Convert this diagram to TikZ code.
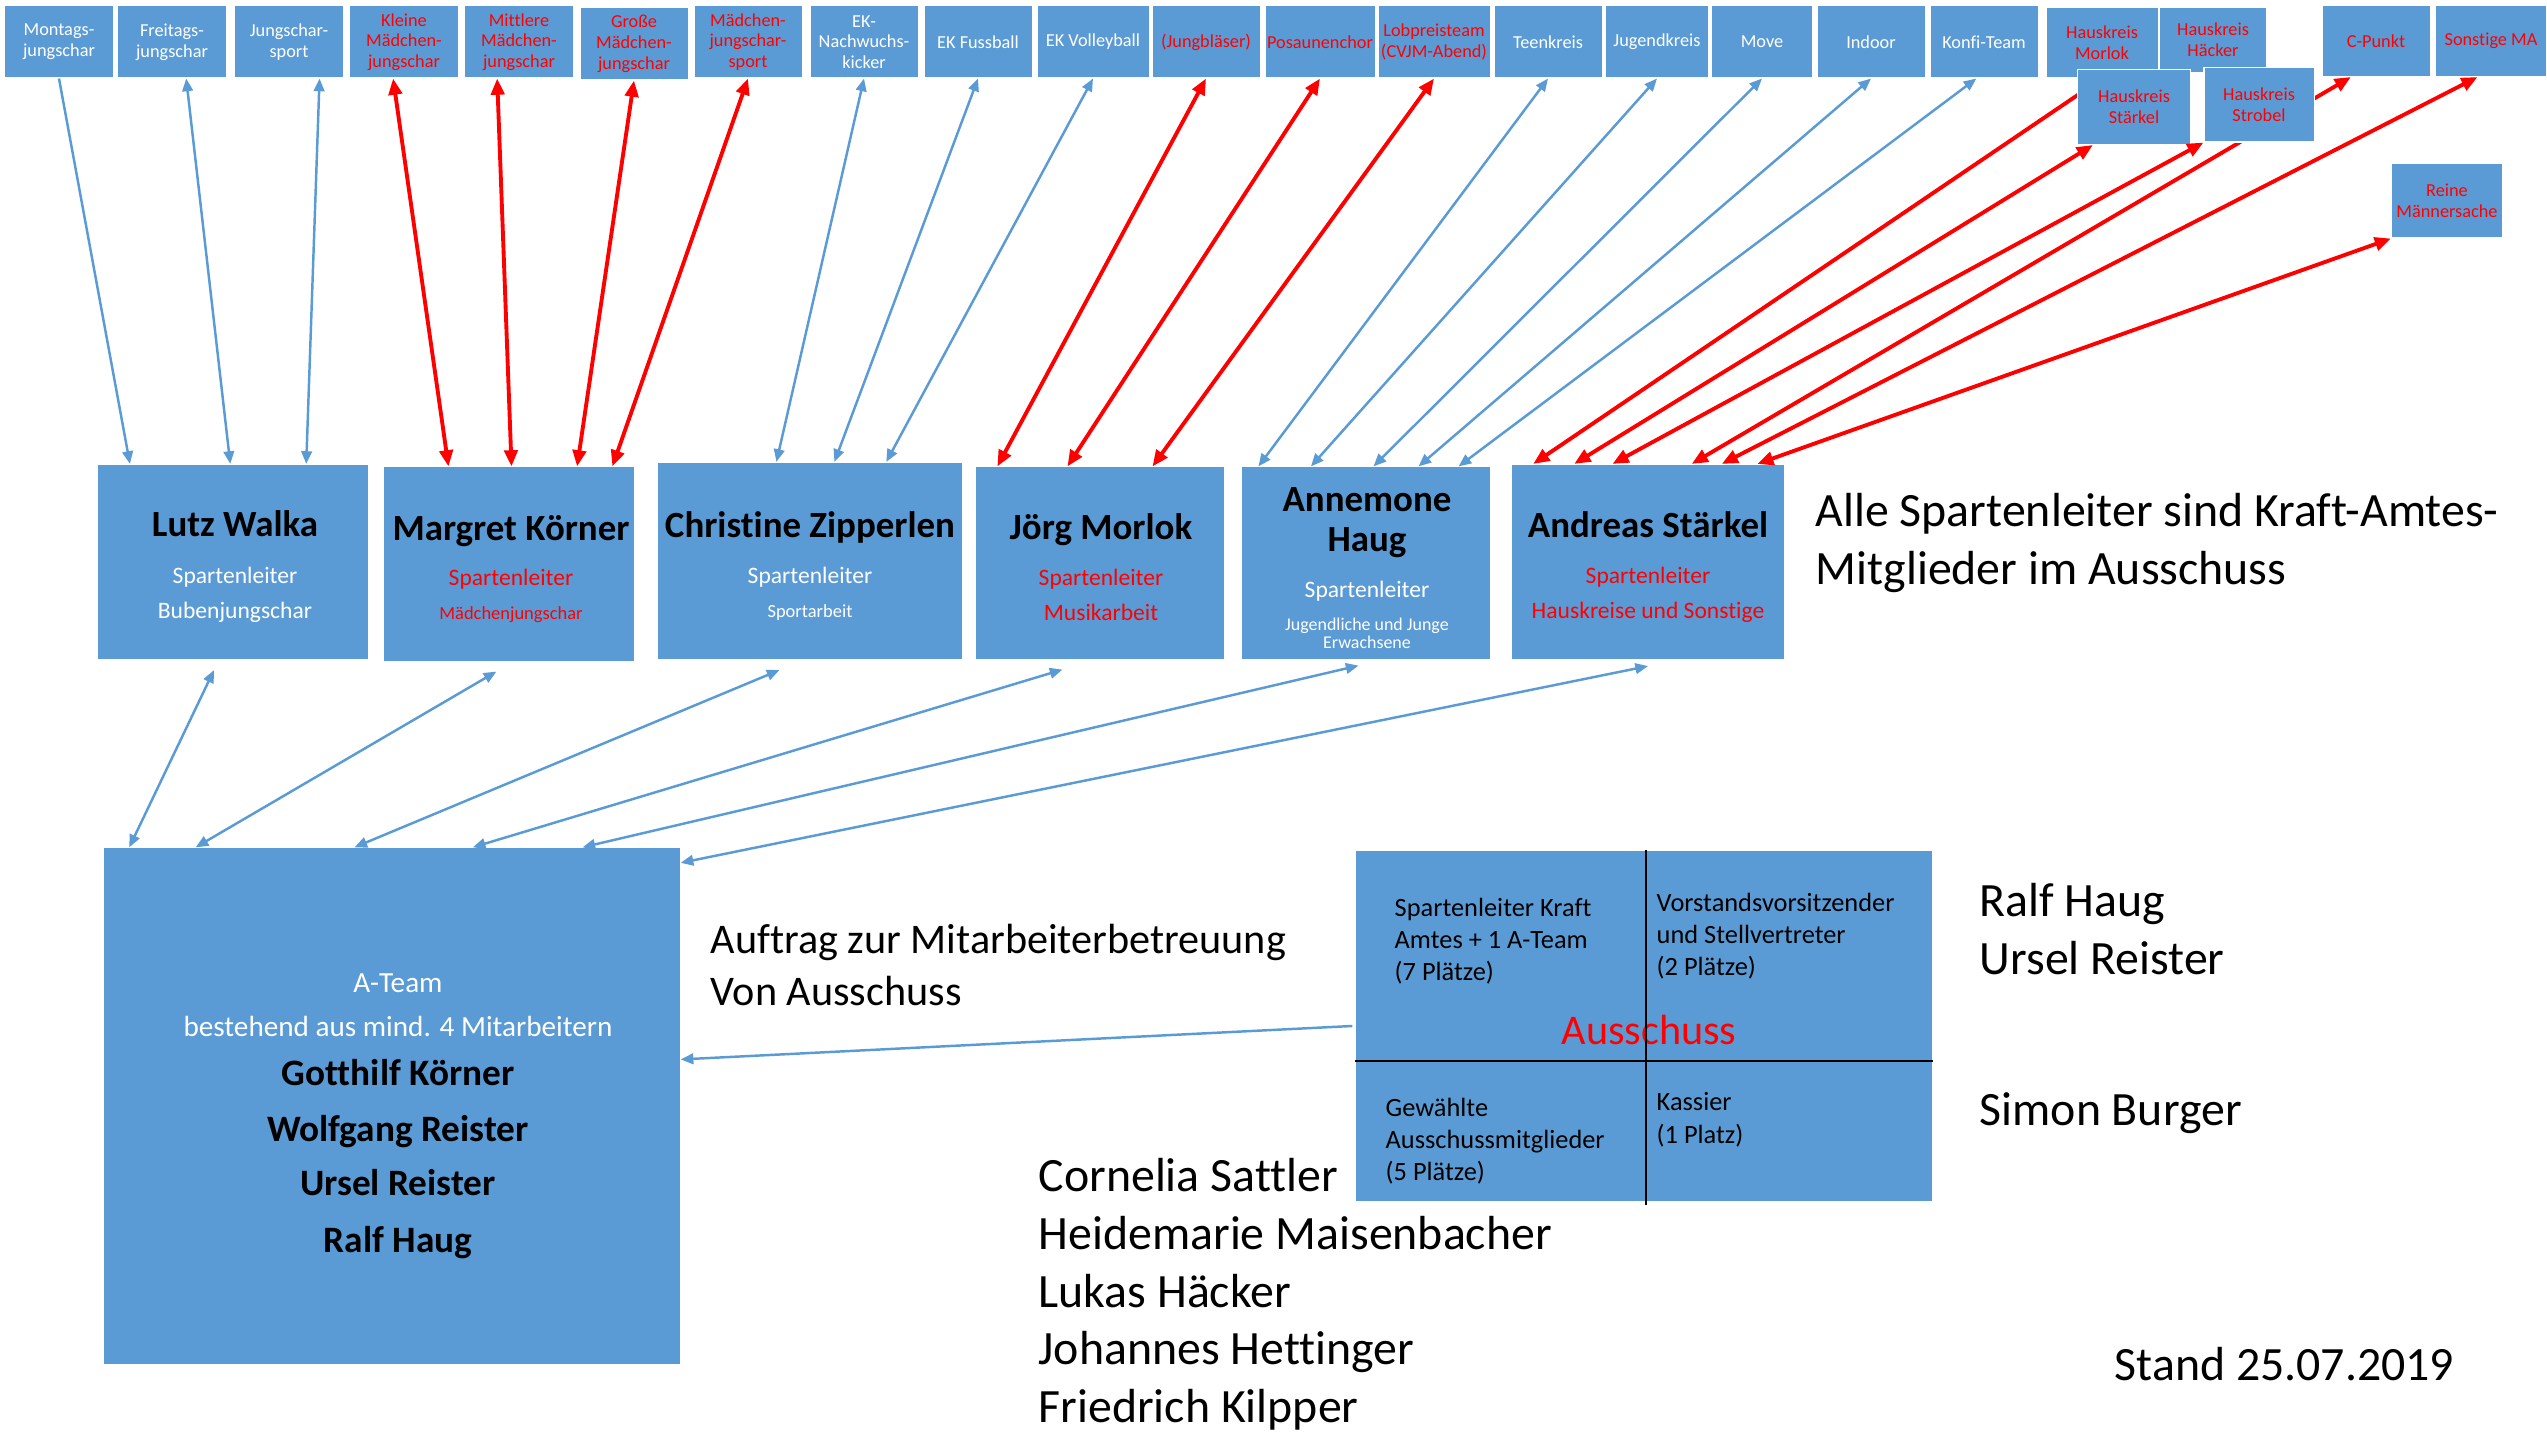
\documentclass[tikz,border=0pt]{standalone}
\usepackage{fontspec}
\setmainfont{Carlito}[Ligatures=NoCommon]
\usepackage{xcolor}
\usepackage{tikz}
\usetikzlibrary{calc,arrows.meta}
\definecolor{officeBlue}{HTML}{5B9BD5}
\definecolor{officeRed}{HTML}{FF0000}
\newcommand{\personName}[1]{{\color{black}\bfseries\fontsize{10.5}{10.5}\selectfont #1}}
\newcommand{\teamName}[1]{{\color{black}\bfseries\fontsize{10.6}{16}\selectfont #1}}
\newcommand{\redText}[1]{{\color{officeRed}#1}}

\begin{document}
\begin{tikzpicture}[x=0.01cm,y=-0.01cm]
      \tikzstyle{every node} = [font=\fontsize{5.2}{5.9}\selectfont]
      \tikzstyle{box} = [draw=white, line width=0.3pt, fill=officeBlue, text=white, inner sep=0pt, align=center]
      \tikzstyle{topbox} = [box, minimum width=1.08cm, minimum height=0.72cm]
      \tikzstyle{redbox} = [topbox, text=officeRed]
      \tikzstyle{leaderText} = [text=white, inner sep=0pt, align=center, font=\fontsize{6.7}{10.5}\selectfont]
      \tikzstyle{note} = [anchor=north west, inner sep=0pt, align=left, font=\fontsize{13.6}{16.4}\selectfont]
      \tikzstyle{quad} = [anchor=north west, inner sep=0pt, align=left, font=\fontsize{7.5}{9.2}\selectfont]
      \tikzstyle{blueLine} = [draw=officeBlue, line width=0.7pt, >={Triangle[length=3.6pt,width=3pt]}]
      \tikzstyle{redLine} = [draw=officeRed, line width=1.1pt, >={Triangle[length=4.6pt,width=3.8pt]}]
      \path[use as bounding box, fill=white] (0,0) rectangle (2547,1440);
      % Sparten
      \node[topbox](montags) at (59,42){Montags-\\jungschar};
      \node[topbox](freitags) at (172,42){Freitags-\\jungschar};
      \node[topbox](jsSport) at (289,42){Jungschar-\\sport};
      \node[redbox](kleineMJ) at (404,42){Kleine\\Mädchen-\\jungschar};
      \node[redbox](mittlereMJ) at (519,42){Mittlere\\Mädchen-\\jungschar};
      \node[redbox](grosseMJ) at (634,44){Große\\Mädchen-\\jungschar};
      \node[redbox](mjSport) at (748,42){Mädchen-\\jungschar-\\sport};
      \node[topbox](ekKicker) at (864,42){EK-\\Nachwuchs-\\kicker};
      \node[topbox](ekFussball) at (978,42){EK Fussball};
      \node[topbox, minimum width=1.12cm](ekVolley) at (1093,42){EK Volleyball};
      \node[redbox](jungblaeser) at (1206,42){(Jungbläser)};
      \node[redbox, minimum width=1.10cm](posaunen) at (1320,42){Posaunenchor};
      \node[redbox, minimum width=1.12cm](lobpreis) at (1434,42){Lobpreisteam\\(CVJM-Abend)};
      \node[topbox](teenkreis) at (1548,42){Teenkreis};
      \node[topbox, minimum width=1.03cm](jugendkreis) at (1657,42){Jugendkreis};
      \node[topbox, minimum width=1.01cm](move) at (1762,42){Move};
      \node[topbox](indoor) at (1871,42){Indoor};
      \node[topbox](konfi) at (1984,42){Konfi-Team};
      \node[redbox, minimum width=1.12cm, minimum height=0.70cm](hkMorlok) at (2102,43){Hauskreis\\Morlok};
      \node[redbox, minimum width=1.07cm, minimum height=0.65cm](hkHaecker) at (2213,40){Hauskreis\\Häcker};
      \node[redbox, minimum height=0.71cm](cPunkt) at (2376,41){C-Punkt};
      \node[redbox, minimum width=1.11cm, minimum height=0.71cm](sonstige) at (2491,41){Sonstige MA};
      \node[redbox, minimum width=1.11cm, minimum height=0.74cm](maenner) at (2447,201){Reine\\Männersache};
      % Spartenleiter
      \node[box, minimum width=2.70cm, minimum height=1.95cm](lutz) at (233,562){};
      \node[box, minimum width=2.51cm, minimum height=1.94cm](margret) at (509,564){};
      \node[box, minimum width=3.04cm, minimum height=1.97cm](christine) at (810,561){};
      \node[box, minimum width=2.49cm, minimum height=1.92cm](joerg) at (1100,563){};
      \node[box, minimum width=2.49cm, minimum height=1.92cm](annemone) at (1366,563){};
      \node[box, minimum width=2.72cm, minimum height=1.95cm](andreas) at (1648,562){};
      \node[leaderText](lutzText) at ($(lutz.center)+(2,5)$){\personName{Lutz Walka}\\[2.6pt]Spartenleiter\\[-0.3pt]Bubenjungschar};
      \node[leaderText](margretText) at ($(margret.center)+(2,5)$){\personName{Margret Körner}\\[2.3pt]\redText{Spartenleiter}\\[-0.8pt]{\fontsize{5.25}{6}\selectfont\redText{Mädchenjungschar}}};
      \node[leaderText](christineText) at ($(christine.center)+(0,5)$){\personName{Christine Zipperlen}\\[2.6pt]Spartenleiter\\[-1.1pt]{\fontsize{5.25}{6}\selectfont Sportarbeit}};
      \node[leaderText](joergText) at ($(joerg.center)+(1,4)$){\personName{Jörg Morlok}\\[2.8pt]\redText{Spartenleiter}\\[-0.6pt]\redText{Musikarbeit}};
      \node[leaderText](annemoneText) at ($(annemone.center)+(1,5)$){\personName{Annemone}\\[0.9pt]\personName{Haug}\\[2.6pt]Spartenleiter\\[-1.3pt]{\fontsize{5.1}{6}\selectfont Jugendliche und Junge}\\[-5.3pt]{\fontsize{5.1}{6}\selectfont Erwachsene}};
      \node[leaderText](andreasText) at ($(andreas.center)+(0,5)$){\personName{Andreas Stärkel}\\[2.8pt]\redText{Spartenleiter}\\[-0.6pt]\redText{Hauskreise und Sonstige}};
      % Teams
      \node[box, minimum width=5.76cm, minimum height=5.16cm](aTeam) at (392,1106){};
      \node[text=white, inner sep=0pt, align=center, font=\fontsize{8.3}{16}\selectfont](aTeamText) at ($(aTeam.center)+(6,10)$){A-Team\\[-3.5pt]bestehend aus mind. 4 Mitarbeitern\\[-2pt]\teamName{Gotthilf Körner}\\\teamName{Wolfgang Reister}\\[-0.6pt]\teamName{Ursel Reister}\\\teamName{Ralf Haug}};
      \node[box, minimum width=5.76cm, minimum height=3.50cm](ausschuss) at (1644,1026){};
      \node[quad](quadKraft) at (1394,897){Spartenleiter Kraft\\Amtes + 1 A-Team\\(7 Plätze)};
      \node[quad](quadVorstand) at (1656,892){Vorstandsvorsitzender\\und Stellvertreter\\(2 Plätze)};
      \node[quad](quadGewaehlt) at (1385,1097){Gewählte\\Ausschussmitglieder\\(5 Plätze)};
      \node[quad](quadKassier) at (1656,1092){Kassier\\(1 Platz)};
      \node[text=officeRed, inner sep=0pt, font=\fontsize{12}{14}\selectfont](ausschussTitle) at (1649,1030){Ausschuss};
      \draw[black, line width=0.5pt]
      ($(ausschuss.north west)!0.503!(ausschuss.north east)$) -- ($(ausschuss.south west)!0.503!(ausschuss.south east)+(0,3)$);
      \draw[black, line width=0.5pt]
      ($(ausschuss.north west)!0.6!(ausschuss.south west)$) -- ($(ausschuss.north east)!0.6!(ausschuss.south east)$);
      % Texts
      \node[note](ausschussNote) at (1815,493){Alle Spartenleiter sind Kraft-Amtes-\\Mitglieder im Ausschuss};
      \node[note, font=\fontsize{12}{14.8}\selectfont](auftrag) at (710,923){Auftrag zur Mitarbeiterbetreuung\\Von Ausschuss};
      \node[note](vorstand) at (1979,883){Ralf Haug\\Ursel Reister};
      \node[note, anchor=west](kassier) at (1979,1113){Simon Burger};
      \node[note](gewaehlte) at (1038,1158){Cornelia Sattler\\Heidemarie Maisenbacher\\Lukas Häcker\\Johannes Hettinger\\Friedrich Kilpper};
      \node[note, anchor=west](stand) at (2114,1364){Stand 25.07.2019};
      % Connections
      \draw[blueLine,->]
      (montags.south) -- ($(lutz.north west)!0.12!(lutz.north east)$);
      \draw[blueLine,<->]
      ($(freitags.south west)!0.63!(freitags.south east)$) -- ($(lutz.north west)!0.49!(lutz.north east)$);
      \draw[blueLine,<->]
      ($(jsSport.south west)!0.78!(jsSport.south east)$) -- ($(lutz.north west)!0.77!(lutz.north east)$);
      \draw[redLine,<->]
      ($(kleineMJ.south west)!0.40!(kleineMJ.south east)$) -- ($(margret.north west)!0.26!(margret.north east)$);
      \draw[redLine,<->]
      ($(mittlereMJ.south west)!0.30!(mittlereMJ.south east)$) -- ($(margret.north west)!0.51!(margret.north east)$);
      \draw[redLine,<->]
      (grosseMJ.south) -- ($(margret.north west)!0.77!(margret.north east)$);
      \draw[redLine,<->]
      (mjSport.south) -- ($(margret.north west)!0.91!(margret.north east)$);
      \draw[blueLine,<->]
      (ekKicker.south) -- ($(christine.north west)!0.39!(christine.north east)$);
      \draw[blueLine,<->]
      (ekFussball.south) -- ($(christine.north west)!0.58!(christine.north east)$);
      \draw[blueLine,<->]
      (ekVolley.south) -- ($(christine.north west)!0.75!(christine.north east)$);
      \draw[redLine,<->]
      (jungblaeser.south) -- ($(joerg.north west)!0.09!(joerg.north east)$);
      \draw[redLine,<->]
      (posaunen.south) -- ($(joerg.north west)!0.37!(joerg.north east)$);
      \draw[redLine,<->]
      (lobpreis.south) -- ($(joerg.north west)!0.71!(joerg.north east)$);
      \draw[blueLine,<->]
      (teenkreis.south) -- ($(annemone.north west)!0.07!(annemone.north east)$);
      \draw[blueLine,<->]
      (jugendkreis.south) -- ($(annemone.north west)!0.28!(annemone.north east)$);
      \draw[blueLine,<->]
      (move.south) -- ($(annemone.north west)!0.53!(annemone.north east)$);
      \draw[blueLine,<->]
      (indoor.south) -- ($(annemone.north west)!0.71!(annemone.north east)$);
      \draw[blueLine,<->]
      ($(konfi.south west)!0.43!(konfi.south east)$) -- ($(annemone.north west)!0.87!(annemone.north east)$);
      \draw[redLine,<->]
      (hkMorlok.south) -- ($(andreas.north west)!0.08!(andreas.north east)$);
      \draw[redLine,<->]
      ($(cPunkt.south west)!0.27!(cPunkt.south east)$) -- ($(andreas.north west)!0.66!(andreas.north east)$);
      % Hauskreise in front
      \node[redbox, minimum width=1.13cm, minimum height=0.75cm](hkStaerkel) at (2134,107){Hauskreis\\Stärkel};
      \node[redbox, minimum width=1.10cm, minimum height=0.74cm](hkStrobel) at (2259,105){Hauskreis\\Strobel};
      \draw[redLine,<->]
      ($(hkStaerkel.south west)!0.14!(hkStaerkel.south east)$) -- ($(andreas.north west)!0.23!(andreas.north east)$);
      \draw[redLine,<->]
      (hkStrobel.south west) -- ($(andreas.north west)!0.37!(andreas.north east)$);
      \draw[redLine,<->]
      ($(sonstige.south west)!0.38!(sonstige.south east)$) -- ($(andreas.north west)!0.77!(andreas.north east)$);
      \draw[redLine,<->]
      (maenner.south west) -- ($(andreas.north west)!0.90!(andreas.north east)$);
      % A-Team
      \draw[blueLine,<->]
      ($(lutz.south west)!0.43!(lutz.south east)+(0,10)$) -- ($(aTeam.north west)!0.045!(aTeam.north east)$);
      \draw[blueLine,<->]
      ($(margret.south west)!0.45!(margret.south east)+(0,10)$) -- ($(aTeam.north west)!0.16!(aTeam.north east)$);
      \draw[blueLine,<->]
      ($(christine.south west)!0.40!(christine.south east)+(0,10)$) -- ($(aTeam.north west)!0.435!(aTeam.north east)$);
      \draw[blueLine,<->]
      ($(joerg.south west)!0.35!(joerg.south east)+(0,10)$) -- ($(aTeam.north west)!0.64!(aTeam.north east)$);
      \draw[blueLine,<->]
      ($(annemone.south west)!0.47!(annemone.south east)+(0,6)$) -- ($(aTeam.north west)!0.83!(aTeam.north east)$);
      \draw[blueLine,<->]
      ($(andreas.south west)!0.50!(andreas.south east)+(0,6)$) -- ($(aTeam.north east)!0.03!(aTeam.south east)$);
      \draw[blueLine,->]
      ($(ausschuss.west)+(-3,0)$) -- ($(aTeam.north east)!0.41!(aTeam.south east)$);
\end{tikzpicture}
\end{document}
